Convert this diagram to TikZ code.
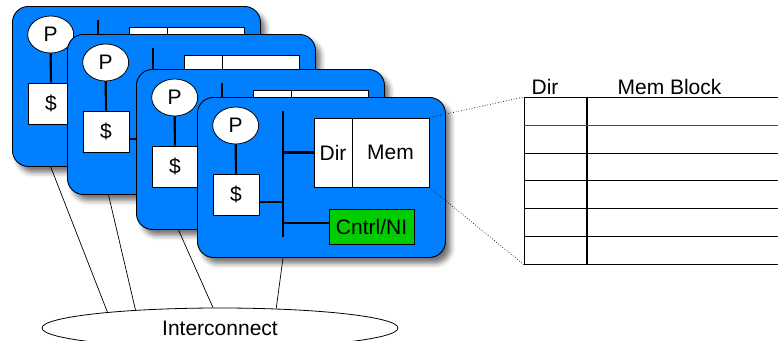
\documentclass[tikz,border=0pt]{standalone}
\usepackage{fontspec}
\setmainfont{Liberation Sans}
\usetikzlibrary{shapes.geometric,shadows.blur,backgrounds}
\definecolor{cardblue}{RGB}{0,128,255}
\definecolor{nigreen}{RGB}{0,204,0}
\tikzset{
  card/.style={draw=black, line width=0.9pt, fill=cardblue, rounded corners=16pt,
    minimum width=248pt, minimum height=160pt, inner sep=0pt, anchor=north west,
    blur shadow={shadow xshift=5pt, shadow yshift=-6pt, shadow blur radius=5pt, shadow opacity=55}},
  whitebox/.style={draw=black, line width=0.8pt, fill=white, inner sep=0pt},
  proc/.style={whitebox, ellipse, minimum width=46pt, minimum height=37pt},
  cache/.style={whitebox, minimum width=46pt, minimum height=41pt},
  dirbox/.style={whitebox, minimum width=38pt, minimum height=69pt},
  membox/.style={whitebox, minimum width=77pt, minimum height=69pt},
  nibox/.style={draw=black, line width=0.8pt, fill=nigreen, inner sep=0pt,
    minimum width=85pt, minimum height=35pt},
  bus/.style={line width=2.2pt},
  link/.style={line width=0.7pt},
  peek/.style={dotted, line width=0.7pt},
  cell/.style={draw=black, line width=0.8pt, inner sep=0pt, minimum height=27.83pt, anchor=north west}
}
\begin{document}
\begin{tikzpicture}[x=1pt,y=-1pt,font=\fontsize{21}{25}\selectfont]
\useasboundingbox (0,0) rectangle (778,340);

% four processing nodes, back to front
\foreach \n/\x/\y in {1/12/6,2/67/34,3/136/69,4/197/97}{
  \node[card] (k\n) at (\x,\y) {};
  \node[proc]  (p\n) at ([shift={(38.7,28.5)}]k\n.north west) {P};
  \node[cache] (c\n) at ([shift={(39,97.5)}]k\n.north west) {\$};
  \node[dirbox] (d\n) at ([shift={(136,55.5)}]k\n.north west) {Dir};
  \node[membox] (m\n) at ([shift={(193.5,55.5)}]k\n.north west) {Mem};
  \node[nibox] (n\n) at ([shift={(174.5,129.5)}]k\n.north west) {Cntrl/NI};
  \coordinate (bt\n) at ([shift={(85.7,13.7)}]k\n.north west);
  \coordinate (bb\n) at ([shift={(85.7,139.7)}]k\n.north west);
  \coordinate (bs\n) at ([shift={(85.7,105)}]k\n.north west);
  \coordinate (bn\n) at ([shift={(85.7,126)}]k\n.north west);
  \draw[bus] (p\n) -- (c\n);
  \draw[bus] (bt\n) -- (bb\n);
  \draw[bus] (c\n.east |- bs\n) -- (bs\n);
  \draw[bus] (d\n.west) -- (d\n.west -| bt\n);
  \draw[bus] (n\n.west |- bn\n) -- (bn\n);
}

% interconnect
\node[draw=black, line width=0.8pt, ellipse, inner sep=0pt,
  minimum width=356pt, minimum height=40pt] (ic) at (220,328) {Interconnect};

\coordinate (f1) at ([xshift=38.7pt]k1.south west);
\coordinate (f2) at ([xshift=41.5pt]k2.south west);
\coordinate (f3) at ([xshift=42.5pt]k3.south west);
\coordinate (f4) at ([xshift=86pt]k4.south west);
\begin{pgfonlayer}{background}
  \draw[link] (f1) -- (ic.172.6);
  \draw[link] (f2) -- (ic.168.5);
  \draw[link] (f3) -- (ic.109.3);
  \draw[link] (f4) -- (ic.19.4);
\end{pgfonlayer}

% directory table
\foreach \r in {1,...,6}{
  \node[cell, minimum width=62pt] (td\r) at (524,{97+(\r-1)*27.83}) {};
  \node[cell, minimum width=230pt] (tm\r) at (td\r.north east) {};
}
\draw[line width=1.6pt, black!70] (td1.south west) -- (tm1.south east);
\node[anchor=base] (hd) at (545,94) {Dir};
\node[anchor=base] (hm) at (669.5,94) {Mem Block};

% zoom-in guides
\draw[peek] (m4.north east) -- (td1.north west);
\draw[peek] (m4.south east) -- (td6.south west);
\end{tikzpicture}
\end{document}
